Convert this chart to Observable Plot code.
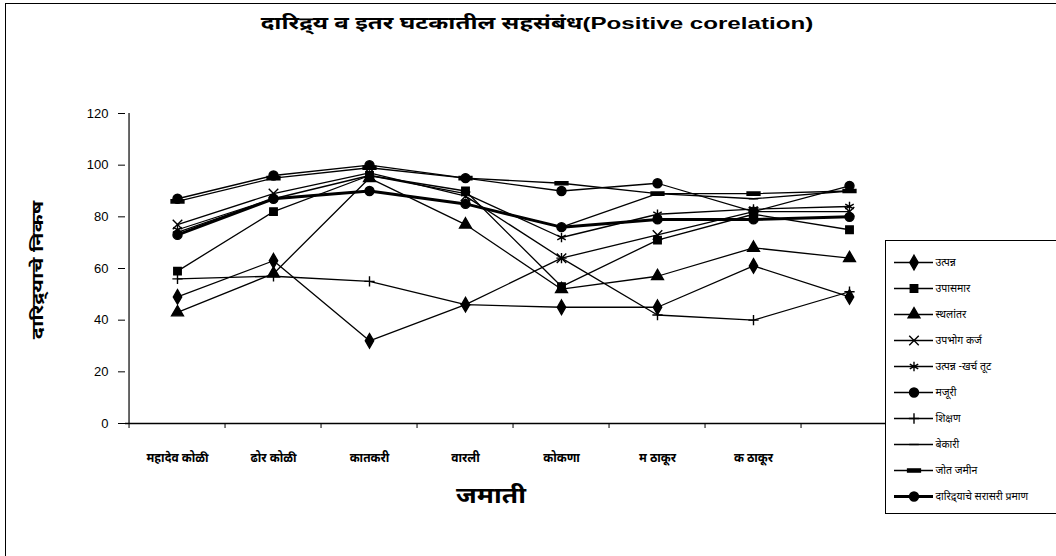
<!DOCTYPE html>
<html>
<head>
<meta charset="utf-8">
<script src="https://cdn.jsdelivr.net/npm/d3@7"></script>
<script src="https://cdn.jsdelivr.net/npm/@observablehq/plot@0.6"></script>
<style>
  html, body { margin: 0; padding: 0; background: #fff; }
  body { width: 1056px; height: 556px; overflow: hidden; position: relative;
         font-family: "Noto Sans Devanagari", "Lohit Devanagari", "FreeSans", "Noto Sans", sans-serif; }
  #frame { position: absolute; left: 5px; top: 3px; width: 1100px; height: 600px;
           border-left: 1px solid #000; border-top: 1px solid #000; }
  #chart { position: absolute; left: 0; top: 0; }
  #title { position: absolute; left: 537px; top: 25px; transform: translate(-50%, -50%) scaleX(1.42);
           font-size: 17px; font-weight: bold; color: #000; white-space: nowrap; }
  #title .lat { font-family: "Liberation Sans", Arial, sans-serif; }
  #ytitle { position: absolute; left: 39px; top: 270px; transform: translate(-50%, -50%) rotate(-90deg) scaleX(1.35);
            font-size: 16px; font-weight: bold; white-space: nowrap; }
  #xtitle { position: absolute; left: 491px; top: 497px; transform: translate(-50%, -50%) scaleX(1.2);
            font-size: 22px; font-weight: bold; white-space: nowrap; }
  #legend { position: absolute; left: 885px; top: 240px; width: 200px; height: 272px;
            border: 1px solid #000; background: #fff; }
</style>
</head>
<body>
<div id="frame"></div>
<div id="chart"></div>
<div id="title">दारिद्र्य व इतर घटकातील सहसंबंध<span class="lat">(Positive corelation)</span></div>
<div id="ytitle">दारिद्र्याचे निकष</div>
<div id="xtitle">जमाती</div>
<div id="legend"></div>
<script>
// ---- data ----
const categories = ["महादेव कोळी", "ढोर कोळी", "कातकरी", "वारली", "कोकणा", "म ठाकूर", "क ठाकूर", ""];
const seriesNames = ["उत्पन्न", "उपासमार", "स्थलांतर", "उपभोग कर्ज", "उत्पन्न -खर्च तूट",
                     "मजूरी", "शिक्षण", "बेकारी", "जोत जमीन", "दारिद्र्याचे सरासरी प्रमाण"];
const utpanna      = [49, 63, 32, 46, 45, 45, 61, 49];
const upasmar      = [59, 82, 96, 90, 53, 71, 81, 75];
const sthalantar   = [43, 58, 95, 77, 52, 57, 68, 64];
const upabhogKarj  = [77, 89, 97, 88, 64, 73, 82, 82];
const kharchTut    = [75, 87, 96, 89, 72, 81, 83, 84];
const majuri       = [87, 96, 100, 95, 90, 93, 82, 92];
const shikshan     = [56, 57, 55, 46, 64, 42, 40, 51];
const bekari       = [74, 87, 90, 85, 76, 89, 87, 90];
const jotJamin     = [86, 95, 99, 95, 93, 89, 89, 90];
const sarasari     = [73, 87, 90, 85, 76, 79, 79, 80];
const yTicks = [0, 20, 40, 60, 80, 100, 120];

const seriesValues = [utpanna, upasmar, sthalantar, upabhogKarj, kharchTut,
                      majuri, shikshan, bekari, jotJamin, sarasari];

// custom dash symbols
const dashSmall = { draw(ctx, size) { const w = Math.sqrt(size) * 0.9; ctx.moveTo(-w, 0); ctx.lineTo(w, 0); } };
const dashBar = { draw(ctx, size) { const w = Math.sqrt(size) * 1.1, h = 1.6; ctx.moveTo(-w, -h); ctx.lineTo(w, -h); ctx.lineTo(w, h); ctx.lineTo(-w, h); ctx.closePath(); } };
const symbolRange = [d3.symbolDiamond, d3.symbolSquare, d3.symbolTriangle, d3.symbolTimes, d3.symbolAsterisk,
                     d3.symbolCircle, d3.symbolPlus, dashSmall, dashBar, d3.symbolCircle];
const rRange = [4.4, 4.2, 4.4, 4.4, 4.6, 4.5, 3.4, 3, 3.3, 4.5];

const data = seriesValues.flatMap((vals, i) =>
  vals.map((v, j) => ({ series: seriesNames[i], cat: categories[j], value: v, r: rRange[i] })));
const thickName = seriesNames[9];
const thin = data.filter(d => d.series !== thickName);
const thick = data.filter(d => d.series === thickName);

const xScale = { type: "point", domain: categories, padding: 0.5 };
const halfStep = (1056 - 125 - 155.5) / categories.length / 2;
const devFont = "\"Noto Sans Devanagari\", \"Lohit Devanagari\", sans-serif";

const chart = Plot.plot({
  width: 1056, height: 556,
  marginLeft: 125, marginRight: 155.5, marginTop: 113, marginBottom: 133,
  style: { background: "transparent", color: "#000", fontFamily: devFont },
  x: xScale,
  y: { domain: [0, 120] },
  symbol: { domain: seriesNames, range: symbolRange },
  r: { type: "identity" },
  marks: [
    Plot.ruleX([categories[0]], { dx: -halfStep, stroke: "#000", strokeWidth: 1.2 }),
    Plot.ruleY([0], { stroke: "#000", strokeWidth: 1.5 }),
    Plot.axisY({ ticks: yTicks, tickSize: 7, tickPadding: 10, label: null, fontSize: 13,
                 fontFamily: "Liberation Sans, Arial, sans-serif" }),
    Plot.axisX({ tickSize: 5, tickFormat: () => "", dx: -halfStep, label: null }),
    Plot.axisX({ tickSize: 0, tickPadding: 30, label: null, fontSize: 12, fontWeight: "bold" }),
    Plot.lineY(thin, { x: "cat", y: "value", z: "series", stroke: "#000", strokeWidth: 1.3 }),
    Plot.lineY(thick, { x: "cat", y: "value", z: "series", stroke: "#000", strokeWidth: 3 }),
    Plot.dot(data, { x: "cat", y: "value", symbol: "series", r: "r", fill: "#000", stroke: "#000", strokeWidth: 1.4 })
  ]
});
document.getElementById("chart").appendChild(chart);

// ---- legend ----
const legendData = seriesNames.map((s, i) => ({ series: s, r: rRange[i] }));
const legend = Plot.plot({
  width: 171, height: 272,
  marginLeft: 8, marginRight: 124, marginTop: 4, marginBottom: 0,
  style: { background: "transparent", color: "#000" },
  x: { domain: [0, 1], axis: null },
  y: { type: "point", domain: seriesNames, padding: 0.5, axis: null },
  symbol: { domain: seriesNames, range: symbolRange },
  r: { type: "identity" },
  marks: [
    Plot.ruleY(legendData.filter(d => d.series !== thickName), { y: "series", x1: 0, x2: 1, stroke: "#000", strokeWidth: 1.3 }),
    Plot.ruleY(legendData.filter(d => d.series === thickName), { y: "series", x1: 0, x2: 1, stroke: "#000", strokeWidth: 3 }),
    Plot.dot(legendData, { x: 0.5, y: "series", symbol: "series", r: "r", fill: "#000", stroke: "#000", strokeWidth: 1.4 }),
    Plot.text(legendData, { x: 1, y: "series", text: "series", textAnchor: "start", dx: 2, fontSize: 10.5,
                            fontFamily: devFont })
  ]
});
document.getElementById("legend").appendChild(legend);
</script>
</body>
</html>
